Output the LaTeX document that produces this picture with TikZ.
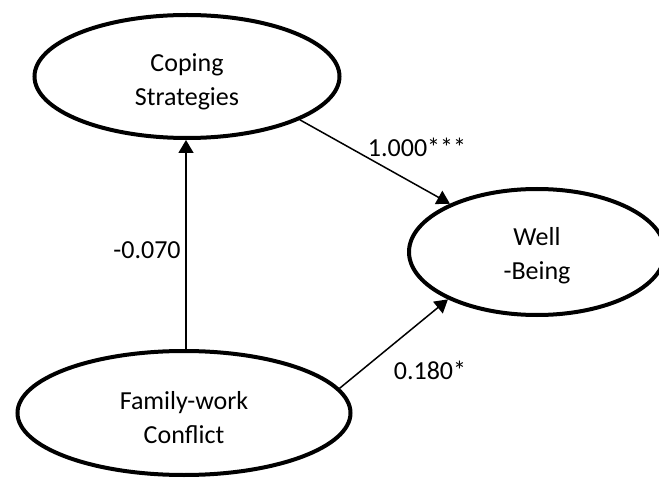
\documentclass[tikz,border=0pt]{standalone}
\usepackage{fontspec}
\setmainfont{Carlito}
\usetikzlibrary{shapes.geometric,arrows.meta}
\tikzset{
  latent/.style={ellipse, draw=black, line width=4pt, inner sep=0pt},
  lbl/.style={inner sep=0pt, align=center, font=\fontsize{26}{34}\selectfont},
  path/.style={line width=1.5pt, -{Triangle[length=13pt,width=15pt]}},
  coef/.style={inner sep=0pt, font=\fontsize{26}{33}\selectfont}
}
\begin{document}
\begin{tikzpicture}[x=1pt,y=-1pt]
\useasboundingbox (0,0) rectangle (659,481);
\clip (0,0) rectangle (659,481);
\node[latent, minimum width=305pt, minimum height=123pt] (cs) at (187,76.5) {};
\node[latent, minimum width=333pt, minimum height=124pt] (fw) at (184,413) {};
\node[latent, minimum width=256pt, minimum height=126pt] (wb) at (537,252) {};
\node[lbl] (cst) at ([yshift=-5pt]cs.center) {Coping\\Strategies};
\node[lbl] (fwt) at ([yshift=-5pt]fw.center) {Family-work\\Conflict};
\node[lbl] (wbt) at ([yshift=-4pt]wb.center) {Well\\-Being};
\draw[path] (186,0 |- fw.north) -- (186,0 |- cs.south);
\draw[path] (cs.-21) -- (wb.151);
\draw[path] (fw.9) -- (wb.208);
\node[coef] (l1) at (417,147) {1.000***};
\node[coef] (l2) at (147,250) {-0.070};
\node[coef] (l3) at (430,370) {0.180*};
\end{tikzpicture}
\end{document}
